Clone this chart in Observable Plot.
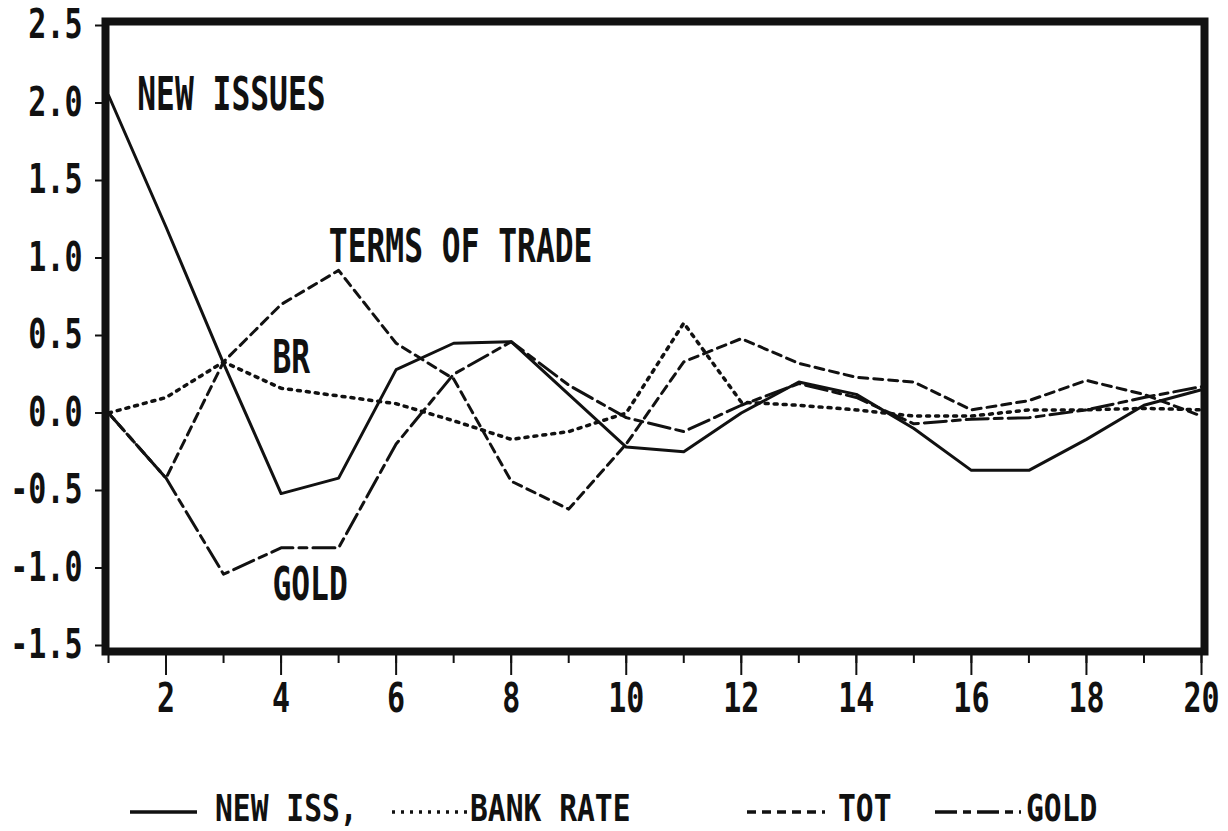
<!DOCTYPE html>
<html>
<head>
<meta charset="utf-8">
<script src="https://cdn.jsdelivr.net/npm/d3@7"></script>
<script src="https://cdn.jsdelivr.net/npm/@observablehq/plot@0.6"></script>
<style>
  html, body { margin: 0; padding: 0; background: #fff; }
  #wrap { position: relative; width: 1228px; height: 831px; overflow: hidden; }
  #legend { position: absolute; left: 0; top: 790px; width: 1228px; height: 41px; }
  #legend svg { overflow: visible; display: block; }
</style>
</head>
<body>
<div id="wrap">
  <div id="chart"></div>
  <div id="legend"></div>
</div>
<script>
// ---- data ----
const periods = [1,2,3,4,5,6,7,8,9,10,11,12,13,14,15,16,17,18,19,20];
const newIssues = [2.05, 1.2, 0.32, -0.52, -0.42, 0.28, 0.45, 0.46, 0.12, -0.22, -0.25, 0.0, 0.2, 0.12, -0.1, -0.37, -0.37, -0.17, 0.05, 0.15];
const bankRate  = [0.0, 0.1, 0.33, 0.16, 0.11, 0.06, -0.05, -0.17, -0.12, 0.0, 0.58, 0.07, 0.05, 0.02, -0.02, -0.02, 0.02, 0.02, 0.03, 0.02];
const termsOfTrade = [0.0, -0.42, 0.33, 0.7, 0.92, 0.45, 0.22, -0.44, -0.62, -0.2, 0.33, 0.48, 0.32, 0.23, 0.2, 0.02, 0.08, 0.21, 0.12, -0.02];
const gold = [0.0, -0.42, -1.04, -0.87, -0.87, -0.2, 0.25, 0.46, 0.18, -0.03, -0.12, 0.05, 0.19, 0.1, -0.07, -0.04, -0.03, 0.02, 0.1, 0.17];
const yTickValues = [-1.5, -1.0, -0.5, 0.0, 0.5, 1.0, 1.5, 2.0, 2.5];
const xTickLabels = [2, 4, 6, 8, 10, 12, 14, 16, 18, 20];
const annotations = [
  {x: 1.5, y: 2.05, text: "NEW ISSUES"},
  {x: 4.83, y: 1.07, text: "TERMS OF TRADE"},
  {x: 3.85, y: 0.35, text: "BR"},
  {x: 3.85, y: -1.11, text: "GOLD"}
];
const legendLabels = ["NEW ISS,", "BANK RATE", "TOT", "GOLD"];
const legendDashes = [null, "3,6", "9,6", "22,6,8,6"];

const ink = "#111";
const chart = Plot.plot({
  width: 1228,
  height: 740,
  marginLeft: 105,
  marginRight: 24,
  marginTop: 21,
  marginBottom: 89,
  style: {fontFamily: "DejaVu Sans Mono, monospace", fontSize: "40px", fontWeight: "bold", color: ink, background: "#fff"},
  x: {domain: [1 - 3/57.5, 20 + 3/57.5]},
  y: {domain: [-1.5 - 6/155, 2.5 + 4/155]},
  marks: [
    Plot.axisX({ticks: periods, tickSize: 12, tickFormat: () => "", label: null, strokeWidth: 2}),
    Plot.axisX({ticks: xTickLabels, tickSize: 24, tickPadding: 8, label: null, strokeWidth: 2, tickFormat: d => String(d)}),
    Plot.axisY({ticks: yTickValues, tickSize: 10, tickPadding: 13, label: null, strokeWidth: 2, tickFormat: d => d.toFixed(1)}),
    Plot.lineY(newIssues, {x: periods, stroke: ink, strokeWidth: 3}),
    Plot.lineY(bankRate, {x: periods, stroke: ink, strokeWidth: 3.5, strokeDasharray: "3,6"}),
    Plot.lineY(termsOfTrade, {x: periods, stroke: ink, strokeWidth: 3, strokeDasharray: "9,6"}),
    Plot.lineY(gold, {x: periods, stroke: ink, strokeWidth: 3, strokeDasharray: "22,6,8,6"}),
    Plot.text(annotations, {x: "x", y: "y", text: "text", textAnchor: "start", lineAnchor: "middle", fontSize: 46, fill: ink}),
    Plot.frame({stroke: ink, strokeWidth: 8})
  ]
});
document.getElementById("chart").appendChild(chart);

// condense the text horizontally, like the original bitmap font
chart.querySelectorAll('g[aria-label$="tick label"] text').forEach(t => {
  t.setAttribute("transform", (t.getAttribute("transform") || "") + " scale(0.75,1)");
});
chart.querySelectorAll('g[aria-label="text"] text').forEach(t => {
  t.setAttribute("transform", (t.getAttribute("transform") || "") + " scale(0.68,1)");
});

// legend below the chart
const swX = [130, 392, 747, 935];
const swW = [67, 76, 78, 86];
const txX = [215, 470, 838, 1026];
const lsvg = d3.select("#legend").append("svg")
  .attr("width", 1228).attr("height", 41)
  .style("font-family", "DejaVu Sans Mono, monospace")
  .style("font-weight", "bold")
  .style("font-size", "38px");
legendLabels.forEach((label, i) => {
  const ln = lsvg.append("line")
    .attr("x1", swX[i]).attr("x2", swX[i] + swW[i])
    .attr("y1", 22).attr("y2", 22)
    .attr("stroke", ink).attr("stroke-width", 3.5);
  if (legendDashes[i]) ln.attr("stroke-dasharray", legendDashes[i]);
  lsvg.append("text")
    .attr("transform", `translate(${txX[i]},31) scale(0.78,1)`)
    .attr("fill", ink)
    .text(label);
});
</script>
</body>
</html>
